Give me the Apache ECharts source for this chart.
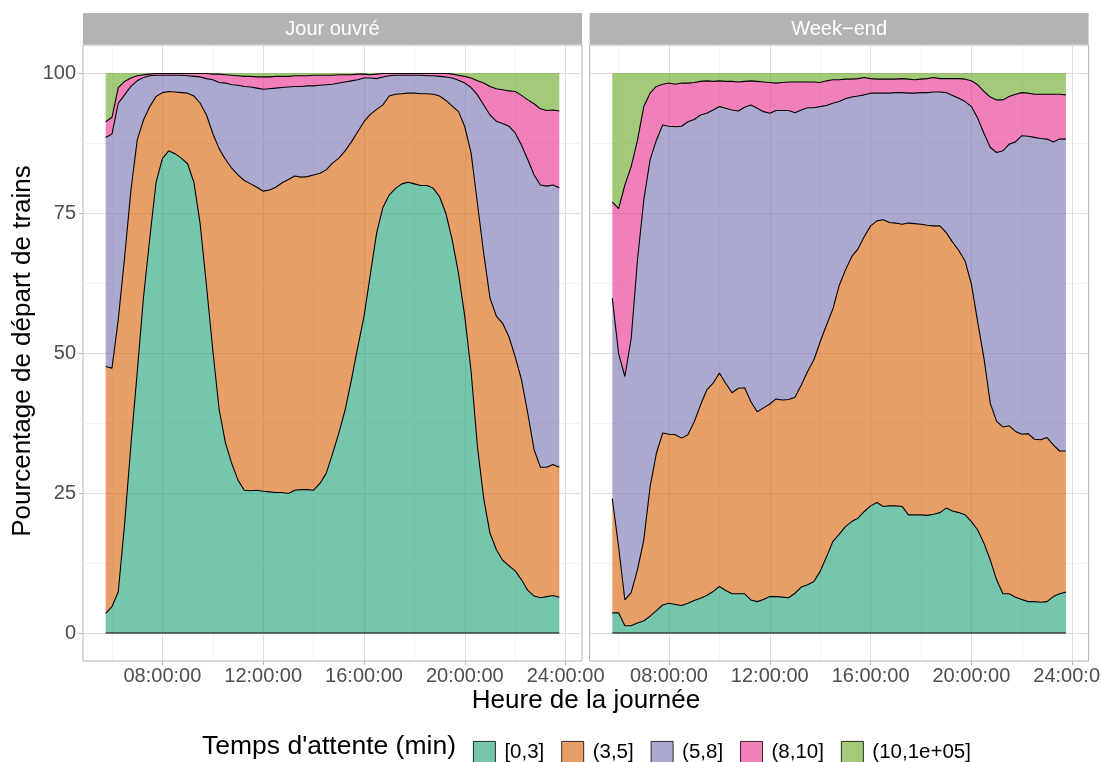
<!DOCTYPE html>
<html>
<head>
<meta charset="utf-8">
<script src="https://cdn.jsdelivr.net/npm/echarts@6/dist/echarts.min.js"></script>
<style>
html, body { margin: 0; padding: 0; background: #fff; }
#main { width: 1101px; height: 762px; }
</style>
</head>
<body>
<div id="main"></div>
<script>
// heures de départ (pas de 15 min)
var heures = ['05:45','06:00','06:15','06:30','06:45','07:00','07:15','07:30','07:45',
  '08:00','08:15','08:30','08:45','09:00','09:15','09:30','09:45','10:00','10:15','10:30','10:45',
  '11:00','11:15','11:30','11:45','12:00','12:15','12:30','12:45','13:00','13:15','13:30','13:45',
  '14:00','14:15','14:30','14:45','15:00','15:15','15:30','15:45','16:00','16:15','16:30','16:45',
  '17:00','17:15','17:30','17:45','18:00','18:15','18:30','18:45','19:00','19:15','19:30','19:45',
  '20:00','20:15','20:30','20:45','21:00','21:15','21:30','21:45','22:00','22:15','22:30','22:45',
  '23:00','23:15','23:30','23:45'];

var categories = ['[0,3]', '(3,5]', '(5,8]', '(8,10]', '(10,1e+05]'];
var panneaux = ['Jour ouvré', 'Week\u2212end'];

// Jour ouvré : % de départs par classe de temps d'attente
var ouvre_0_3 = [3.5,4.7,7.4,19.4,33.5,46.5,59.9,70.5,80.5,84.7,
  86.1,85.6,84.8,83.8,80.5,73.0,62.0,50.5,40.0,34.0,
  30.3,27.3,25.5,25.4,25.5,25.3,25.2,25.1,25.1,24.9,
  25.5,25.6,25.6,25.5,26.7,28.5,32.0,35.7,39.8,45.2,
  51.0,56.5,64.0,71.4,76.0,78.2,79.4,80.2,80.5,80.2,
  79.9,79.9,79.4,77.9,74.9,70.2,64.2,56.5,46.7,33.3,
  24.0,17.8,14.9,13.0,12.0,11.1,9.5,7.6,6.6,6.3,
  6.5,6.7,6.4];
var ouvre_3_5 = [44.1,42.6,48.6,47.6,45.5,41.5,31.7,23.5,15.3,11.8,
  10.6,11.0,11.7,12.6,15.4,21.6,30.5,38.7,46.5,50.6,
  52.7,54.5,55.3,54.8,54.1,53.6,53.9,54.5,55.3,56.1,
  56.1,55.8,55.9,56.3,55.4,54.2,51.9,49.1,46.3,42.5,
  38.5,34.8,28.6,22.1,18.3,17.7,16.8,16.1,15.9,16.2,
  16.4,16.4,16.8,18.0,20.2,23.9,28.9,33.9,39.0,43.4,
  43.8,42.0,41.7,42.3,40.9,38.2,35.7,31.6,26.1,23.3,
  23.1,23.4,23.2];
var ouvre_5_8 = [40.9,41.8,38.6,29.1,18.6,10.6,7.6,5.5,3.8,3.1,
  2.9,3.0,3.1,3.1,3.5,4.7,6.5,9.6,11.8,13.6,
  14.9,16.0,16.8,17.3,17.7,18.2,18.1,17.7,17.0,16.5,
  16.0,16.2,16.2,15.9,15.7,15.2,14.1,13.4,12.3,10.9,
  9.3,7.8,6.5,5.5,5.0,3.6,3.4,3.3,3.2,3.2,
  3.3,3.2,3.3,3.5,4.2,5.0,5.6,7.8,11.7,19.4,
  26.5,32.7,34.8,35.7,37.6,40.0,41.9,45.3,49.1,50.4,
  50.2,49.9,49.9];
var ouvre_8_10 = [2.8,3.0,2.8,2.4,1.5,0.9,0.5,0.3,0.3,0.3,
  0.3,0.3,0.3,0.4,0.5,0.6,0.9,1.0,1.5,1.5,
  1.7,1.7,1.8,1.9,2.0,2.2,2.1,2.1,2.0,1.9,
  1.9,1.9,1.8,1.9,1.8,1.7,1.6,1.5,1.3,1.1,
  1.0,0.7,0.6,0.8,0.6,0.4,0.3,0.3,0.3,0.3,
  0.3,0.4,0.4,0.5,0.6,0.7,0.9,1.2,1.7,2.5,
  3.9,5.1,5.8,6.0,6.3,7.4,8.9,10.7,12.7,13.6,
  13.5,13.4,13.7];
var ouvre_10_plus = [8.7,7.9,2.6,1.5,0.9,0.5,0.3,0.2,0.1,0.1,
  0.1,0.1,0.1,0.1,0.1,0.1,0.1,0.2,0.2,0.3,
  0.4,0.5,0.6,0.6,0.7,0.7,0.7,0.6,0.6,0.6,
  0.5,0.5,0.5,0.4,0.4,0.4,0.4,0.3,0.3,0.3,
  0.2,0.2,0.3,0.2,0.1,0.1,0.1,0.1,0.1,0.1,
  0.1,0.1,0.1,0.1,0.1,0.2,0.4,0.6,0.9,1.4,
  1.8,2.4,2.8,3.0,3.2,3.3,4.0,4.8,5.5,6.4,
  6.7,6.6,6.8];

// Week-end
var weekend_0_3 = [3.6,3.6,1.3,1.3,1.8,2.2,3.0,4.0,5.0,5.3,
  5.1,4.9,5.3,5.8,6.2,6.7,7.4,8.3,7.6,7.0,
  7.0,7.0,5.9,5.6,6.0,6.5,6.5,6.4,6.3,7.1,
  8.2,8.6,9.2,11.0,13.6,16.3,17.6,19.0,19.9,20.5,
  21.7,22.7,23.3,22.6,22.7,22.7,22.6,21.1,21.1,21.1,
  21.0,21.2,21.5,22.3,21.8,21.5,21.1,19.9,18.4,16.0,
  13.0,9.5,7.0,7.0,6.4,6.0,5.6,5.6,5.5,5.6,
  6.5,7.0,7.3];
var weekend_3_5 = [20.4,11.8,4.6,5.9,9.5,14.4,23.1,28.1,30.7,30.2,
  30.3,29.9,30.1,31.9,34.5,36.7,37.2,38.1,37.0,35.9,
  36.7,36.8,35.4,33.9,34.2,34.4,35.3,35.2,35.4,35.0,
  36.1,38.1,39.6,41.0,41.4,41.5,44.4,45.8,47.3,48.1,
  49.1,50.0,50.3,51.2,50.6,50.5,50.4,52.1,52.0,51.9,
  51.8,51.5,51.2,49.2,48.0,46.8,45.3,42.4,37.1,33.0,
  28.0,28.3,29.8,30.0,29.6,29.5,30.0,29.0,29.0,29.3,
  27.1,25.5,25.2];
var weekend_5_8 = [35.8,34.5,39.9,45.4,55.3,60.7,58.4,55.9,55.0,55.0,
  55.0,55.7,55.9,54.0,51.8,49.4,48.8,47.6,49.1,50.5,
  49.5,50.1,53.0,54.2,52.9,51.9,51.5,51.7,51.6,50.8,
  49.1,47.1,45.0,42.0,39.2,36.8,32.9,30.6,28.5,27.3,
  25.3,23.7,22.8,22.6,23.1,23.3,23.5,23.2,23.3,23.5,
  23.7,23.9,23.9,25.0,26.2,27.2,28.5,31.7,36.4,40.2,
  45.7,48.0,49.3,50.3,51.7,53.3,53.1,53.9,53.8,53.3,
  54.1,55.7,55.7];
var weekend_8_10 = [17.2,25.9,34.2,30.7,21.4,16.7,11.9,9.6,7.3,7.7,
  7.6,7.7,6.9,6.6,6.0,5.8,5.1,4.6,4.8,5.1,
  5.2,4.6,4.3,4.8,5.3,5.5,4.9,5.0,5.1,5.5,
  5.0,4.6,4.6,4.3,4.4,4.2,3.9,3.5,3.2,3.1,
  3.1,2.6,2.5,2.5,2.5,2.4,2.5,2.5,2.4,2.4,
  2.5,2.6,2.4,2.5,3.0,3.5,4.0,4.6,6.0,7.5,
  9.0,9.4,9.1,8.5,8.5,7.7,7.7,7.7,7.9,8.0,
  8.5,8.0,7.9];
var weekend_10_plus = [23.0,24.2,20.0,16.7,12.0,6.0,3.6,2.4,2.0,1.8,
  2.0,1.8,1.8,1.7,1.5,1.4,1.5,1.4,1.5,1.5,
  1.6,1.5,1.4,1.5,1.6,1.7,1.8,1.7,1.6,1.6,
  1.6,1.6,1.6,1.7,1.4,1.2,1.2,1.1,1.1,1.0,
  0.8,1.0,1.1,1.1,1.1,1.1,1.0,1.1,1.2,1.1,
  1.0,0.8,1.0,1.0,1.0,1.0,1.1,1.4,2.1,3.3,
  4.3,4.8,4.8,4.2,3.8,3.5,3.6,3.8,3.8,3.8,
  3.8,3.8,3.9];

var xMajeurs = [8, 12, 16, 20, 24];
var xMineurs = [6, 10, 14, 18, 22];
var yMajeurs = [0, 25, 50, 75, 100];
var yMineurs = [12.5, 37.5, 62.5, 87.5];

var couleurs = ['#1B9E77', '#D95F02', '#7570B3', '#E7298A', '#66A61E'];
var police = '"Liberation Sans", Arial, Helvetica, sans-serif';

function enHeures(h) {
  var p = h.split(':');
  return Number(p[0]) + Number(p[1]) / 60;
}

function transparent(hex, a) {
  var r = parseInt(hex.substr(1, 2), 16), g = parseInt(hex.substr(3, 2), 16), b = parseInt(hex.substr(5, 2), 16);
  return 'rgba(' + r + ',' + g + ',' + b + ',' + a + ')';
}

var dom = document.getElementById('main');
var myChart = echarts.init(dom, null, { renderer: 'canvas' });

var panneauxData = [
  [ouvre_0_3, ouvre_3_5, ouvre_5_8, ouvre_8_10, ouvre_10_plus],
  [weekend_0_3, weekend_3_5, weekend_5_8, weekend_8_10, weekend_10_plus]
];
var gauches = [83, 589.6];
var largeur = 499;
var haut = 45, hauteur = 616;

var grids = [], xAxes = [], yAxes = [], series = [], graphics = [];

panneauxData.forEach(function (jeux, p) {
  grids.push({
    left: gauches[p], top: haut, width: largeur, height: hauteur,
    outerBoundsMode: 'none', containLabel: false,
    show: true, borderColor: '#B3B3B3', borderWidth: 1, backgroundColor: 'transparent'
  });
  // axe des données + grille mineure
  xAxes.push({
    type: 'value', gridIndex: p, min: 4.85, max: 24.65, position: 'bottom',
    axisLine: { show: false, onZero: false },
    axisTick: { show: false, customValues: xMineurs },
    axisLabel: { show: false },
    splitLine: { show: true, lineStyle: { color: '#EBEBEB', width: 0.6 } }
  });
  // grille majeure, graduations et étiquettes
  xAxes.push({
    type: 'value', gridIndex: p, min: 4.85, max: 24.65, position: 'bottom',
    axisLine: { show: false, onZero: false },
    axisTick: { show: true, customValues: xMajeurs, length: 4, lineStyle: { color: '#B3B3B3', width: 1 } },
    axisLabel: {
      customValues: xMajeurs, margin: 5, color: '#4D4D4D', fontSize: 20, fontFamily: police,
      alignMaxLabel: 'center', alignMinLabel: 'center',
      formatter: function (v) { return (v < 10 ? '0' : '') + v + ':00:00'; }
    },
    splitLine: { show: true, lineStyle: { color: '#DEDEDE', width: 1 } }
  });
  yAxes.push({
    type: 'value', gridIndex: p, min: -5, max: 105, position: 'left',
    axisLine: { show: false, onZero: false },
    axisTick: { show: false, customValues: yMineurs },
    axisLabel: { show: false },
    splitLine: { show: true, lineStyle: { color: '#EBEBEB', width: 0.6 } }
  });
  yAxes.push({
    type: 'value', gridIndex: p, min: -5, max: 105, position: 'left',
    axisLine: { show: false, onZero: false },
    axisTick: { show: p === 0, customValues: yMajeurs, length: 4, lineStyle: { color: '#B3B3B3', width: 1 } },
    axisLabel: {
      show: p === 0, customValues: yMajeurs, margin: 7, color: '#4D4D4D', fontSize: 20, fontFamily: police
    },
    splitLine: { show: true, lineStyle: { color: '#DEDEDE', width: 1 } }
  });

  jeux.forEach(function (valeurs, k) {
    series.push({
      name: categories[k],
      type: 'line',
      stack: 'pile' + p,
      xAxisIndex: p * 2,
      yAxisIndex: p * 2,
      z: 10 - k,
      symbol: 'none',
      smooth: false,
      // colonne 0 = part (empilée), colonne 1 = heure
      encode: { x: 1, y: 0 },
      data: heures.map(function (h, i) { return [valeurs[i], enHeures(h)]; }),
      lineStyle: { color: '#000', width: k < 4 ? 1.1 : 0 },
      itemStyle: { color: couleurs[k] },
      areaStyle: { color: couleurs[k], opacity: 0.6 },
      emphasis: { disabled: true }
    });
  });
  // ligne de base à 0
  series.push({
    type: 'line', xAxisIndex: p * 2, yAxisIndex: p * 2, z: 20, silent: true,
    symbol: 'none',
    data: heures.map(function (h) { return [enHeures(h), 0]; }),
    lineStyle: { color: '#000', width: 1.1 }
  });

  // bandeau du panneau
  graphics.push({
    type: 'rect', left: gauches[p], top: 13,
    shape: { width: largeur, height: 31.5 },
    style: { fill: '#B3B3B3' }, silent: true
  });
  graphics.push({
    type: 'text', x: gauches[p] + largeur / 2, y: 29,
    style: {
      text: panneaux[p], fill: '#fff', font: '20px ' + police,
      align: 'center', verticalAlign: 'middle', textAlign: 'center', textVerticalAlign: 'middle'
    }, silent: true
  });
});

graphics.push({
  type: 'text', x: 586, y: 701,
  style: {
    text: 'Heure de la journée', fill: '#000', font: '26px ' + police,
    align: 'center', verticalAlign: 'middle', textAlign: 'center', textVerticalAlign: 'middle'
  }
});
graphics.push({
  type: 'text', x: 23, y: 351, rotation: Math.PI / 2,
  style: {
    text: 'Pourcentage de départ de trains', fill: '#000', font: '26px ' + police,
    align: 'center', verticalAlign: 'middle', textAlign: 'center', textVerticalAlign: 'middle'
  }
});
graphics.push({
  type: 'text', x: 202, y: 747,
  style: {
    text: "Temps d'attente (min)", fill: '#000', font: '26.5px ' + police,
    align: 'left', verticalAlign: 'middle', textAlign: 'left', textVerticalAlign: 'middle'
  }
});

option = {
  backgroundColor: '#fff',
  animation: false,
  grid: grids,
  xAxis: xAxes,
  yAxis: yAxes,
  legend: {
    data: categories.map(function (c, k) {
      return { name: c, itemStyle: { color: transparent(couleurs[k], 0.6) } };
    }),
    left: 468, top: 736,
    icon: 'rect',
    itemWidth: 22, itemHeight: 22, itemGap: 17,
    selectedMode: false,
    itemStyle: { borderColor: '#000', borderWidth: 0.8 },
    textStyle: { fontSize: 20.5, color: '#000', fontFamily: police, padding: [0, 0, 0, 4] }
  },
  graphic: graphics,
  series: series
};

if (option && typeof option === 'object') {
  myChart.setOption(option, true);
}
</script>
</body>
</html>
